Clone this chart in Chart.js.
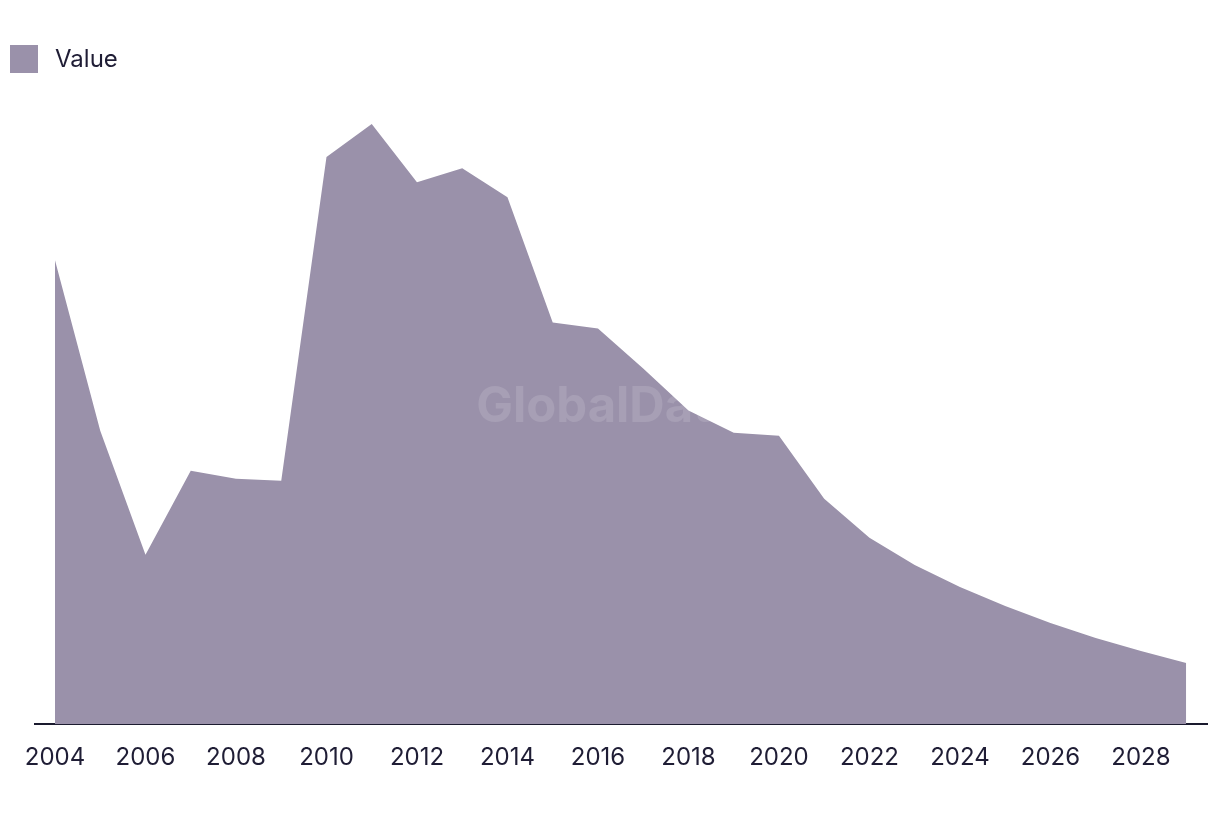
<!DOCTYPE html>
<html>
<head>
<meta charset="utf-8">
<script src="https://cdn.jsdelivr.net/npm/chart.js@4"></script>
<style>
    html, body { margin: 0; padding: 0; background: #fff; }
    #wrap { position: relative; width: 1220px; height: 814px; }
    #legend { position: absolute; left: 10px; top: 44px; display: flex; align-items: center;
        font-family: Inter, 'Noto Sans', sans-serif; font-size: 24px; color: #1f1d35; }
    #legend span.box { display: inline-block; width: 28px; height: 28px; background: #9a91aa; margin-right: 17px; }
</style>
</head>
<body>
<div id="wrap">
    <canvas id="chart" width="1220" height="814"></canvas>
    <div id="legend"><span class="box"></span><span>Value</span></div>
</div>
<script>
const years = [2004, 2005, 2006, 2007, 2008, 2009, 2010, 2011, 2012, 2013, 2014, 2015, 2016,
    2017, 2018, 2019, 2020, 2021, 2022, 2023, 2024, 2025, 2026, 2027, 2028, 2029];
const values = [463, 293, 169, 253, 245, 243, 566, 599, 541, 555, 526, 401, 395,
    355, 313, 291, 288, 225, 186, 159, 137, 118, 101, 86, 73, 61];
const tickYears = [2004, 2006, 2008, 2010, 2012, 2014, 2016, 2018, 2020, 2022, 2024, 2026, 2028];

document.addEventListener('DOMContentLoaded', function() {
    const ctx = document.getElementById('chart').getContext('2d');

    const watermark = {
        id: 'watermark',
        afterDatasetsDraw(chart) {
            const c = chart.ctx;
            c.save();
            c.font = 'bold 49px Inter, "Noto Sans", sans-serif';
            c.fillStyle = 'rgba(255, 255, 255, 0.13)';
            c.textAlign = 'center';
            c.textBaseline = 'middle';
            c.fillText('GlobalData', 608, 407);
            c.restore();
        }
    };

    new Chart(ctx, {
        type: 'line',
        data: {
            datasets: [{
                label: 'Value',
                data: years.map((y, i) => ({ x: y, y: values[i] })),
                fill: 'origin',
                backgroundColor: '#9a91aa',
                borderWidth: 0,
                pointRadius: 0,
                tension: 0
            }]
        },
        options: {
            responsive: false,
            animation: false,
            layout: { padding: { left: 35, right: 13, top: 100, bottom: 23 } },
            plugins: {
                legend: { display: false },
                tooltip: { enabled: false }
            },
            scales: {
                x: {
                    type: 'linear',
                    min: 2003.558,
                    max: 2029.46,
                    afterBuildTicks: axis => {
                        axis.ticks = tickYears.map(v => ({ value: v }));
                    },
                    grid: { display: false, drawTicks: false },
                    border: { display: true, color: '#1a1a2e', width: 2 },
                    ticks: {
                        autoSkip: false,
                        maxRotation: 0,
                        padding: 19,
                        color: '#1f1d35',
                        font: { family: 'Inter, "Noto Sans", sans-serif', size: 24 },
                        callback: v => String(v)
                    }
                },
                y: {
                    display: false,
                    min: 0,
                    max: 623
                }
            }
        },
        plugins: [watermark]
    });
});
</script>
</body>
</html>
